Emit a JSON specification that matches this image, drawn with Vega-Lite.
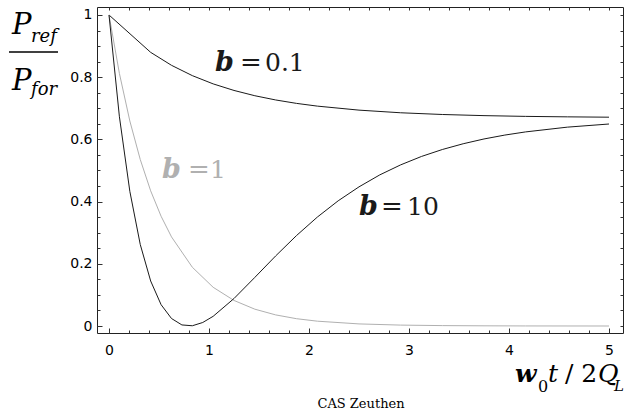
{
"$schema":"https://vega.github.io/schema/vega-lite/v6.json",
"width":526,"height":326,
"autosize":{"type":"none"},
"padding":{"left":97,"top":7,"right":1,"bottom":84},
"background":"white",
"view":{"stroke":"#222","strokeWidth":1},
"config":{"axis":{"domain":false,"grid":false,"labelFont":"DejaVu Sans","labelFontSize":14,"labelColor":"#000","tickColor":"#333","tickWidth":1,"labelFlush":false,"labelOverlap":false},"text":{"font":"DejaVu Serif","align":"left","baseline":"alphabetic"}},
"datasets":{
"curves":[
{"beta":"0.1","t":0,"p":1},{"beta":"0.1","t":0.4167,"p":0.8799},{"beta":"0.1","t":0.625,"p":0.8382},{"beta":"0.1","t":0.8333,"p":0.805},{"beta":"0.1","t":1.0417,"p":0.7785},{"beta":"0.1","t":1.25,"p":0.7574},{"beta":"0.1","t":1.4583,"p":0.7404},{"beta":"0.1","t":1.6667,"p":0.7268},{"beta":"0.1","t":1.875,"p":0.7158},{"beta":"0.1","t":2.0833,"p":0.707},{"beta":"0.1","t":2.5,"p":0.6941},{"beta":"0.1","t":2.9167,"p":0.6856},{"beta":"0.1","t":3.3333,"p":0.6801},{"beta":"0.1","t":3.75,"p":0.6764},{"beta":"0.1","t":4.1667,"p":0.674},{"beta":"0.1","t":4.5833,"p":0.6725},{"beta":"0.1","t":5,"p":0.6714},
{"beta":"1","t":0,"p":1},{"beta":"1","t":0.1042,"p":0.8119},{"beta":"1","t":0.2083,"p":0.6592},{"beta":"1","t":0.3125,"p":0.5353},{"beta":"1","t":0.4167,"p":0.4346},{"beta":"1","t":0.5208,"p":0.3529},{"beta":"1","t":0.625,"p":0.2865},{"beta":"1","t":0.8333,"p":0.1889},{"beta":"1","t":1.0417,"p":0.1245},{"beta":"1","t":1.25,"p":0.0821},{"beta":"1","t":1.4583,"p":0.0541},{"beta":"1","t":1.6667,"p":0.0357},{"beta":"1","t":1.875,"p":0.0235},{"beta":"1","t":2.0833,"p":0.0155},{"beta":"1","t":2.5,"p":0.0067},{"beta":"1","t":2.9167,"p":0.0029},{"beta":"1","t":3.3333,"p":0.0013},{"beta":"1","t":3.75,"p":0.0006},{"beta":"1","t":4.1667,"p":0.0002},{"beta":"1","t":5,"p":0.0},
{"beta":"10","t":0,"p":1},{"beta":"10","t":0.1042,"p":0.6727},{"beta":"10","t":0.2083,"p":0.433},{"beta":"10","t":0.3125,"p":0.2621},{"beta":"10","t":0.4167,"p":0.1447},{"beta":"10","t":0.5208,"p":0.0686},{"beta":"10","t":0.625,"p":0.0241},{"beta":"10","t":0.7292,"p":0.0034},{"beta":"10","t":0.8333,"p":0.0008},{"beta":"10","t":0.9375,"p":0.0113},{"beta":"10","t":1.0417,"p":0.0312},{"beta":"10","t":1.25,"p":0.0884},{"beta":"10","t":1.4583,"p":0.1563},{"beta":"10","t":1.6667,"p":0.2253},{"beta":"10","t":1.875,"p":0.2908},{"beta":"10","t":2.0833,"p":0.3502},{"beta":"10","t":2.2917,"p":0.4025},{"beta":"10","t":2.5,"p":0.4474},{"beta":"10","t":2.7083,"p":0.486},{"beta":"10","t":2.9167,"p":0.5181},{"beta":"10","t":3.125,"p":0.5452},{"beta":"10","t":3.3333,"p":0.5675},{"beta":"10","t":3.5417,"p":0.586},{"beta":"10","t":3.75,"p":0.6014},{"beta":"10","t":3.9583,"p":0.6139},{"beta":"10","t":4.1667,"p":0.6241},{"beta":"10","t":4.5833,"p":0.6394},{"beta":"10","t":5,"p":0.6495}
],
"texts":[
{"role":"beta-symbol","beta":"0.1","t":1.06,"p":0.82,"label":"b"},
{"role":"beta-symbol","beta":"1","t":0.53,"p":0.476,"label":"b"},
{"role":"beta-symbol","beta":"10","t":2.50,"p":0.357,"label":"b"},
{"role":"equals","beta":"0.1","t":1.31,"p":0.82,"label":"="},
{"role":"equals","beta":"1","t":0.79,"p":0.476,"label":"="},
{"role":"equals","beta":"10","t":2.72,"p":0.357,"label":"="},
{"role":"beta-value","beta":"0.1","t":1.56,"p":0.82,"label":"0.1"},
{"role":"beta-value","beta":"1","t":1.01,"p":0.476,"label":"1"},
{"role":"beta-value","beta":"10","t":2.98,"p":0.357,"label":"10"},
{"role":"ratio","t":-0.97,"p":0.939,"label":"P"},
{"role":"ratio","t":-0.97,"p":0.759,"label":"P"},
{"role":"sub-italic","t":-0.78,"p":0.913,"label":"ref"},
{"role":"sub-italic","t":-0.78,"p":0.743,"label":"for"},
{"role":"subscript-italic-small","t":5.05,"p":-0.209,"label":"L"},
{"role":"sub-regular","t":4.29,"p":-0.212,"label":"0"},
{"role":"omega","t":4.06,"p":-0.18,"label":"w"},
{"role":"variable","t":4.39,"p":-0.18,"label":"t"},
{"role":"variable","t":4.89,"p":-0.18,"label":"Q"},
{"role":"constant","t":4.56,"p":-0.18,"label":"/ 2"},
{"role":"credit","t":2.52,"p":-0.264,"label":"CAS Zeuthen"}
],
"bars":[{"role":"fraction-bar","t":-1.0,"t2":-0.51,"p":0.881}]
},
"encoding":{
"x":{"field":"t","type":"quantitative","scale":{"domain":[-0.12,5.14],"nice":false,"zero":false},"axis":null},
"y":{"field":"p","type":"quantitative","scale":{"domain":[-0.0225,1.0257],"nice":false,"zero":false},"axis":null}
},
"resolve":{"scale":{"x":"shared","y":"shared"},"axis":{"x":"independent","y":"independent"}},
"layer":[
{"data":{"name":"curves"},"mark":{"type":"line","strokeWidth":1},
 "encoding":{
 "x":{"field":"t","type":"quantitative","axis":{"orient":"bottom","title":null,"values":[0,1,2,3,4,5],"format":"~g","tickSize":-5,"labelPadding":15}},
 "y":{"field":"p","type":"quantitative","axis":{"orient":"left","title":null,"values":[0,0.2,0.4,0.6,0.8,1],"format":"~g","tickSize":-5,"labelPadding":10}},
 "color":{"field":"beta","type":"nominal","scale":{"domain":["0.1","1","10"],"range":["#1a1a1a","#b0b0b0","#1a1a1a"]},"legend":null},
 "order":{"field":"t","type":"quantitative"}}},
{"data":{"name":"texts"},"transform":[{"filter":"datum.role==='beta-symbol'"}],
 "mark":{"type":"text","font":"DejaVu Serif","fontSize":27,"fontWeight":"bold","fontStyle":"italic"},
 "encoding":{
 "x":{"field":"t","type":"quantitative","axis":{"orient":"bottom","title":null,"values":[0,0.2,0.4,0.6,0.8,1,1.2,1.4,1.6,1.8,2,2.2,2.4,2.6,2.8,3,3.2,3.4,3.6,3.8,4,4.2,4.4,4.6,4.8,5],"labels":false,"tickSize":-3}},
 "y":{"field":"p","type":"quantitative","axis":{"orient":"left","title":null,"values":[0,0.05,0.1,0.15,0.2,0.25,0.3,0.35,0.4,0.45,0.5,0.55,0.6,0.65,0.7,0.75,0.8,0.85,0.9,0.95,1],"labels":false,"tickSize":-3}},
 "text":{"field":"label"},
 "color":{"field":"beta","type":"nominal","legend":null}}},
{"data":{"name":"texts"},"transform":[{"filter":"datum.role==='equals'"}],
 "mark":{"type":"text","font":"DejaVu Serif","fontSize":26},
 "encoding":{
 "x":{"field":"t","type":"quantitative","axis":{"orient":"top","title":null,"values":[0,0.2,0.4,0.6,0.8,1,1.2,1.4,1.6,1.8,2,2.2,2.4,2.6,2.8,3,3.2,3.4,3.6,3.8,4,4.2,4.4,4.6,4.8,5],"labels":false,"tickSize":-3}},
 "y":{"field":"p","type":"quantitative","axis":{"orient":"right","title":null,"values":[0,0.05,0.1,0.15,0.2,0.25,0.3,0.35,0.4,0.45,0.5,0.55,0.6,0.65,0.7,0.75,0.8,0.85,0.9,0.95,1],"labels":false,"tickSize":-3}},
 "text":{"field":"label"},
 "color":{"field":"beta","type":"nominal","legend":null}}},
{"data":{"name":"texts"},"transform":[{"filter":"datum.role==='beta-value'"}],
 "mark":{"type":"text","font":"DejaVu Serif","fontSize":25},
 "encoding":{"text":{"field":"label"},"color":{"field":"beta","type":"nominal","legend":null}}},
{"data":{"name":"texts"},"transform":[{"filter":"datum.role==='ratio'"}],
 "mark":{"type":"text","font":"DejaVu Serif","fontSize":29,"fontStyle":"italic","color":"#000"},
 "encoding":{"text":{"field":"label"}}},
{"data":{"name":"texts"},"transform":[{"filter":"datum.role==='sub-italic'"}],
 "mark":{"type":"text","font":"DejaVu Serif","fontSize":18,"fontStyle":"italic","color":"#000"},
 "encoding":{"text":{"field":"label"}}},
{"data":{"name":"texts"},"transform":[{"filter":"datum.role==='subscript-italic-small'"}],
 "mark":{"type":"text","font":"DejaVu Serif","fontSize":15,"fontStyle":"italic","color":"#000"},
 "encoding":{"text":{"field":"label"}}},
{"data":{"name":"texts"},"transform":[{"filter":"datum.role==='sub-regular'"}],
 "mark":{"type":"text","font":"DejaVu Serif","fontSize":16,"color":"#000"},
 "encoding":{"text":{"field":"label"}}},
{"data":{"name":"texts"},"transform":[{"filter":"datum.role==='omega'"}],
 "mark":{"type":"text","font":"DejaVu Serif","fontSize":25,"fontWeight":"bold","fontStyle":"italic","color":"#000"},
 "encoding":{"text":{"field":"label"}}},
{"data":{"name":"texts"},"transform":[{"filter":"datum.role==='variable'"}],
 "mark":{"type":"text","font":"DejaVu Serif","fontSize":25,"fontStyle":"italic","color":"#000"},
 "encoding":{"text":{"field":"label"}}},
{"data":{"name":"texts"},"transform":[{"filter":"datum.role==='constant'"}],
 "mark":{"type":"text","font":"DejaVu Serif","fontSize":25,"color":"#000"},
 "encoding":{"text":{"field":"label"}}},
{"data":{"name":"texts"},"transform":[{"filter":"datum.role==='credit'"}],
 "mark":{"type":"text","font":"DejaVu Serif","fontSize":13,"align":"center","color":"#000"},
 "encoding":{"text":{"field":"label"}}},
{"data":{"name":"bars"},"mark":{"type":"rule","strokeWidth":1.5,"color":"#000"},
 "encoding":{"x2":{"field":"t2"}}}
]
}
